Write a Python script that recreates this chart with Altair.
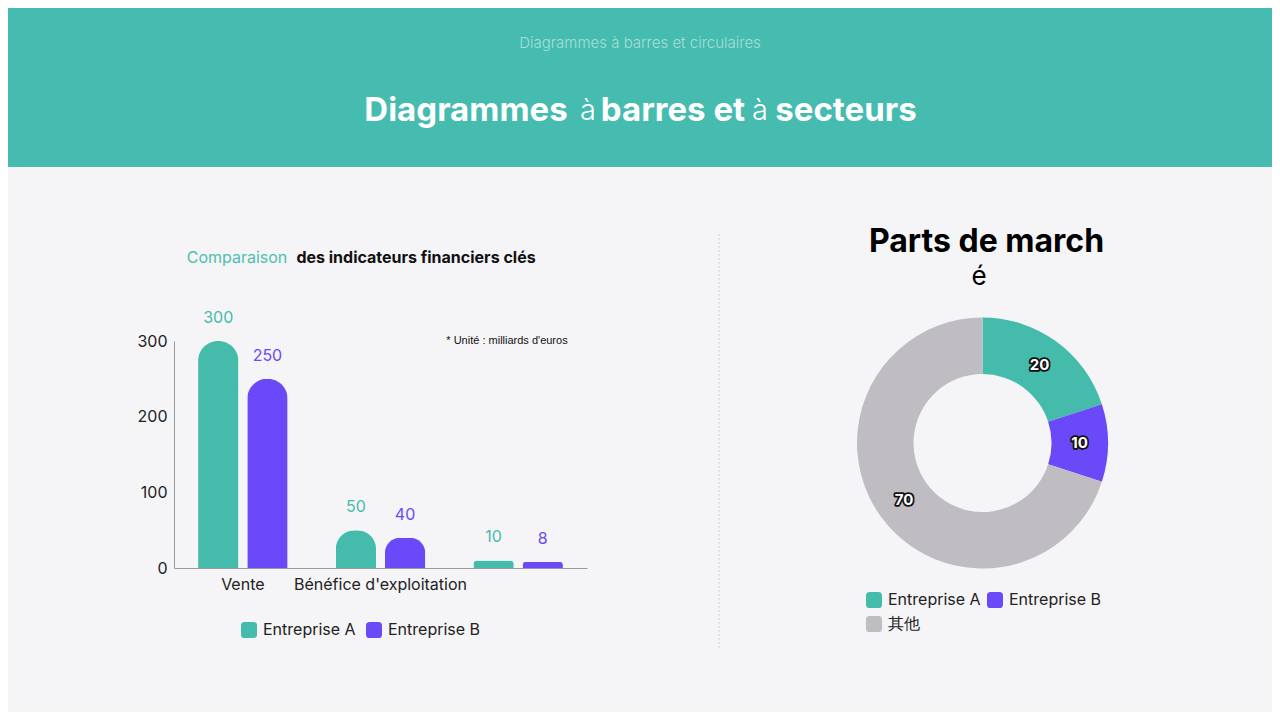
import altair as alt
import pandas as pd

# ---------------- data ----------------
categories = ["Vente", "Bénéfice d'exploitation", "Résultat net"]
companies = ["Entreprise A", "Entreprise B"]
values_a = [300, 50, 10]
values_b = [250, 40, 8]

share_names = ["Entreprise A", "Entreprise B", "其他"]
share_values = [20, 10, 70]

y_ticks = [0, 100, 200, 300]

TEAL = "#45BCAB"
PURPLE = "#6A4AF8"
GRAY = "#BFBDC1"
HEADER = "#46BBAF"
BG = "#F5F4F7"
FONT = "Inter"

rows = []
for i, c in enumerate(categories):
    rows.append({"category": c, "company": companies[0], "value": values_a[i]})
    rows.append({"category": c, "company": companies[1], "value": values_b[i]})
bars_df = pd.DataFrame(rows)
share_df = pd.DataFrame({"name": share_names, "value": share_values,
                         "idx": list(range(len(share_names)))})
one = pd.DataFrame({"k": [0]})

ROUNDED = ("M-0.55,-1 L0.55,-1 Q1,-1 1,-0.55 L1,0.55 Q1,1 0.55,1 "
           "L-0.55,1 Q-1,1 -1,0.55 L-1,-0.55 Q-1,-1 -0.55,-1 Z")


def txt(text, x, y, size, weight, color, font=FONT, align="center"):
    return alt.Chart(one).mark_text(
        text=text, fontSize=size, fontWeight=weight, color=color, font=font,
        align=align, baseline="middle"
    ).encode(x=alt.value(x), y=alt.value(y))


# ---------------- header ----------------
header = alt.Chart(one).mark_rect(color=HEADER).encode(
    x=alt.value(0), x2=alt.value(1264), y=alt.value(0), y2=alt.value(159))

sub = txt("Diagrammes à barres et circulaires", 632, 35, 15, 300, "#A6DFD8")
t1 = txt("Diagrammes", 458, 103, 33, "bold", "white")
t2 = txt("à", 580, 103, 29, 300, "white")
t3 = txt("barres et", 665, 103, 33, "bold", "white")
t4 = txt("à", 752, 103, 29, 300, "white")
t5 = txt("secteurs", 838, 103, 33, "bold", "white")

# ---------------- bar chart ----------------
x_enc = alt.X(
    "category:N", sort=categories,
    scale=alt.Scale(range=[166, 579], paddingInner=0.35, paddingOuter=0.175),
    axis=alt.Axis(title=None, labelAngle=0, ticks=False, grid=False,
                  domainColor="#9A9A9A", labelFontSize=16, labelFont=FONT,
                  labelColor="#222222", labelPadding=8, offset=-144,
                  labelExpr="datum.value == 'Résultat net' ? '' : datum.label"))
y_enc = alt.Y(
    "value:Q",
    scale=alt.Scale(domain=[0, 300], range=[560, 333], nice=False, zero=True),
    axis=alt.Axis(title=None, values=y_ticks, ticks=False, grid=False,
                  domainColor="#9A9A9A", labelFontSize=16, labelFont=FONT,
                  labelColor="#222222", labelPadding=7, offset=-166))
xo_enc = alt.XOffset("company:N", sort=companies,
                     scale=alt.Scale(paddingInner=0.18, paddingOuter=0))

bar_color = alt.Color(
    "company:N", sort=companies,
    scale=alt.Scale(domain=companies, range=[TEAL, PURPLE]),
    legend=alt.Legend(title=None, orient="none", legendX=233, legendY=614,
                      direction="horizontal", symbolType=ROUNDED, symbolSize=256,
                      symbolStrokeWidth=0, labelFontSize=16, labelFont=FONT,
                      labelColor="#222222", columnPadding=10, padding=0,
                      labelOffset=6))

bars = alt.Chart(bars_df).mark_bar(
    cornerRadiusTopLeft=20, cornerRadiusTopRight=20
).encode(x=x_enc, y=y_enc, xOffset=xo_enc, color=bar_color)

bar_text = alt.Chart(bars_df).mark_text(
    baseline="bottom", dy=-15, fontSize=16, font=FONT
).encode(
    x=x_enc, y=y_enc, xOffset=xo_enc, text="value:Q",
    color=alt.Color("company:N", scale=alt.Scale(domain=companies,
                                                 range=[TEAL, PURPLE]),
                    legend=None))

bt1 = txt("Comparaison", 229, 250, 16, 400, "#4CC0AE")
bt2 = txt("des indicateurs financiers clés", 408, 250, 16, "bold", "#111111")
unit = txt("* Unité : milliards d'euros", 499, 333, 11, 400, "#111111",
           font="Liberation Sans")

divider = alt.Chart(one).mark_rule(
    color="#CDCDD2", strokeDash=[2, 2], strokeWidth=1
).encode(x=alt.value(711), y=alt.value(226), y2=alt.value(642))

# ---------------- donut ----------------
CX, CY = 974.5, 435
arc = alt.Chart(share_df).mark_arc(innerRadius=69, outerRadius=125.5).encode(
    theta=alt.Theta("value:Q", stack=True),
    order=alt.Order("idx:Q"),
    x=alt.value(CX), y=alt.value(CY),
    color=alt.Color(
        "name:N", sort=share_names,
        scale=alt.Scale(domain=share_names, range=[TEAL, PURPLE, GRAY]),
        legend=alt.Legend(title=None, orient="none", legendX=858, legendY=584,
                          direction="horizontal", columns=2,
                          symbolType=ROUNDED, symbolSize=256,
                          symbolStrokeWidth=0, labelFontSize=16, labelFont=FONT,
                          labelColor="#222222", columnPadding=6, rowPadding=8,
                          padding=0, labelOffset=6)))

pie_base = alt.Chart(share_df).encode(
    theta=alt.Theta("value:Q", stack=True),
    order=alt.Order("idx:Q"),
    detail="name:N",
    x=alt.value(CX), y=alt.value(CY),
    text="value:Q")
pie_outline = pie_base.mark_text(radius=97, fontSize=15, fontWeight="bold",
                                 font=FONT, color="#111111", stroke="#111111",
                                 strokeWidth=3.5, strokeJoin="round")
pie_fill = pie_base.mark_text(radius=97, fontSize=15, fontWeight="bold",
                              font=FONT, color="white")

dt1 = txt("Parts de march", 978.5, 234, 32, "bold", "#000000")
dt2 = txt("é", 971, 269, 26, 400, "#000000")

chart = alt.layer(
    header, sub, t1, t2, t3, t4, t5,
    bars, bar_text, bt1, bt2, unit, divider,
    arc, pie_outline, pie_fill, dt1, dt2
).resolve_scale(color="independent").properties(
    width=1264, height=704, padding=0,
    autosize=alt.AutoSizeParams(type="none"),
    background=BG
).configure_view(stroke=None)

chart.save("out.html", embed_options={"renderer": "svg", "actions": False})
